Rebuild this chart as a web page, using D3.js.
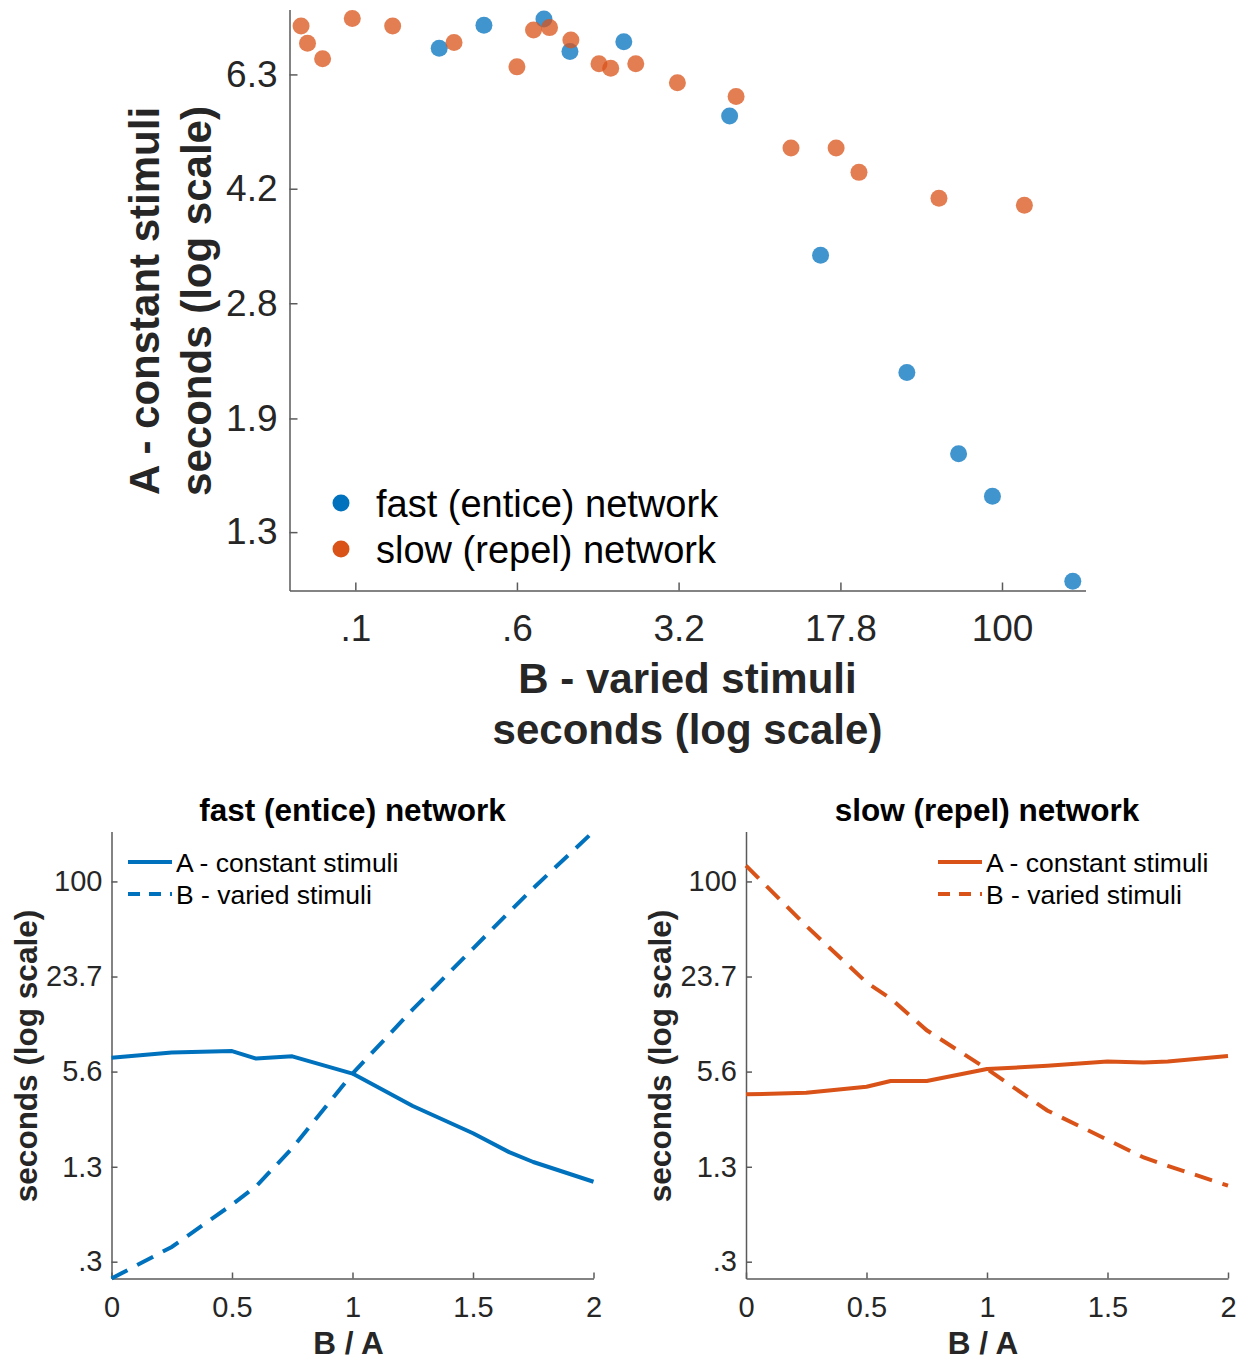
<!DOCTYPE html>
<html>
<head>
<meta charset="utf-8">
<script src="https://cdn.jsdelivr.net/npm/d3@7"></script>
<style>
  body { margin: 0; background: #fff; }
  svg { display: block; }
</style>
</head>
<body>
<script>
// B/A ratio on the bottom panels
var ratio = [0, 0.25, 0.5, 0.6, 0.75, 1, 1.25, 1.5, 1.65, 1.75, 2];

// fast (entice) network, seconds
var fastA = [6.92, 7.50, 7.67, 6.84, 7.08, 5.45, 3.34, 2.21, 1.66, 1.43, 1.06];
var fastB = [0.245, 0.395, 0.750, 0.99, 1.76, 5.45, 14.4, 36.2, 62.9, 90.3, 213];

// slow (repel) network, seconds
var slowA = [3.98, 4.08, 4.47, 4.87, 4.87, 5.84, 6.13, 6.55, 6.45, 6.55, 7.12];
var slowB = [127, 51, 21.7, 17.0, 10.5, 5.84, 3.12, 2.0, 1.53, 1.35, 1.0];

// extra slow-network runs only shown in the scatter
var slowExtraB = [0.056, 0.060, 0.0705, 0.0968, 0.149, 0.287, 0.562, 0.671, 0.796];
var slowExtraA = [7.48, 7.04, 6.67, 7.68, 7.48, 7.06, 6.48, 7.38, 7.44];

// axis ticks
var topXTicks = [0.1, 0.562, 3.16, 17.8, 100];
var topXLabels = [".1", ".6", "3.2", "17.8", "100"];
var topYTicks = [1.26, 1.88, 2.82, 4.22, 6.31];
var topYLabels = ["1.3", "1.9", "2.8", "4.2", "6.3"];
var topXDomain = [0.0495, 244];
var topYDomain = [1.026, 7.93];

var botXTicks = [0, 0.5, 1, 1.5, 2];
var botXLabels = ["0", "0.5", "1", "1.5", "2"];
var botYTicks = [0.316, 1.33, 5.62, 23.7, 100];
var botYLabels = [".3", "1.3", "5.6", "23.7", "100"];

var seriesNames = ["fast (entice) network", "slow (repel) network"];
var lineNames = ["A - constant stimuli", "B - varied stimuli"];

var BLUE = "#0072BD", ORANGE = "#D95319";
var FONT = "'Liberation Sans', Arial, Helvetica, sans-serif";
var AXIS = "#5a5a5a", TXT = "#262626";

var svg = d3.select("body").append("svg")
  .attr("width", 1249).attr("height", 1360)
  .style("font-family", FONT);

function styleAxis(g, size)
{
  g.attr("font-family", FONT).attr("font-size", size);
  g.select(".domain").attr("stroke", AXIS).attr("stroke-width", 1.5);
  g.selectAll(".tick line").attr("stroke", AXIS).attr("stroke-width", 1.5);
  g.selectAll(".tick text").attr("fill", TXT);
}

function labelOf(ticks, labels)
{
  return function(d) { return labels[ticks.indexOf(d)]; };
}

// ---------- top scatter ----------
var tx = d3.scaleLog().domain(topXDomain).range([289.5, 1085.5]);
var ty = d3.scaleLog().domain(topYDomain).range([590.5, 9.5]);

svg.append("g").attr("transform", "translate(0,590.5)")
  .call(d3.axisBottom(tx).tickValues(topXTicks).tickFormat(labelOf(topXTicks, topXLabels))
    .tickSizeInner(-8).tickSizeOuter(0).tickPadding(24))
  .call(styleAxis, 37);

svg.append("g").attr("transform", "translate(289.5,0)")
  .call(d3.axisLeft(ty).tickValues(topYTicks).tickFormat(labelOf(topYTicks, topYLabels))
    .tickSizeInner(-8).tickSizeOuter(0).tickPadding(12))
  .call(styleAxis, 37);

var fastPts = fastB.map(function(b, i) { return { b: b, a: fastA[i] }; });
var slowPts = slowExtraB.map(function(b, i) { return { b: b, a: slowExtraA[i] }; })
  .concat(slowB.map(function(b, i) { return { b: b, a: slowA[i] }; }));

svg.append("g").selectAll("circle").data(fastPts).join("circle")
  .attr("cx", function(d) { return tx(d.b); })
  .attr("cy", function(d) { return ty(d.a); })
  .attr("r", 8.5).attr("fill", BLUE).attr("fill-opacity", 0.75);

svg.append("g").selectAll("circle").data(slowPts).join("circle")
  .attr("cx", function(d) { return tx(d.b); })
  .attr("cy", function(d) { return ty(d.a); })
  .attr("r", 8.5).attr("fill", ORANGE).attr("fill-opacity", 0.75);

// legend
var leg = svg.append("g").attr("transform", "translate(341,503)");
[BLUE, ORANGE].forEach(function(c, i) {
  leg.append("circle").attr("cx", 0).attr("cy", i * 46).attr("r", 8.5).attr("fill", c);
  leg.append("text").attr("x", 35).attr("y", i * 46).attr("dy", "0.36em")
    .attr("font-size", 38).attr("fill", "#000").text(seriesNames[i]);
});

// axis titles
svg.append("text").attr("x", 687.5).attr("y", 693).attr("text-anchor", "middle")
  .attr("font-size", 42).attr("font-weight", "bold").attr("fill", TXT).text("B - varied stimuli");
svg.append("text").attr("x", 687.5).attr("y", 744).attr("text-anchor", "middle")
  .attr("font-size", 42).attr("font-weight", "bold").attr("fill", TXT).text("seconds (log scale)");

svg.append("text").attr("transform", "translate(159,301) rotate(-90)").attr("text-anchor", "middle")
  .attr("font-size", 42).attr("font-weight", "bold").attr("fill", TXT).text("A - constant stimuli");
svg.append("text").attr("transform", "translate(211,301) rotate(-90)").attr("text-anchor", "middle")
  .attr("font-size", 42).attr("font-weight", "bold").attr("fill", TXT).text("seconds (log scale)");

// ---------- bottom panels ----------
var botYDomain = d3.extent(fastB.concat(slowB, fastA, slowA));

function drawPanel(left, right, title, A, B, color, legendX)
{
  var x = d3.scaleLinear().domain([0, 2]).range([left, right]);
  var y = d3.scaleLog().domain(botYDomain).range([1278.5, 831.5]);

  svg.append("g").attr("transform", "translate(0,1278.5)")
    .call(d3.axisBottom(x).tickValues(botXTicks).tickFormat(labelOf(botXTicks, botXLabels))
      .tickSizeInner(-6).tickSizeOuter(0).tickPadding(18))
    .call(styleAxis, 29);

  svg.append("g").attr("transform", "translate(" + left + ",0)")
    .call(d3.axisLeft(y).tickValues(botYTicks).tickFormat(labelOf(botYTicks, botYLabels))
      .tickSizeInner(-6).tickSizeOuter(0).tickPadding(9))
    .call(styleAxis, 29);

  var line = d3.line()
    .x(function(d, i) { return x(ratio[i]); })
    .y(function(d) { return y(d); });

  svg.append("path").attr("d", line(A)).attr("fill", "none")
    .attr("stroke", color).attr("stroke-width", 4).attr("stroke-linejoin", "round");
  svg.append("path").attr("d", line(B)).attr("fill", "none")
    .attr("stroke", color).attr("stroke-width", 4).attr("stroke-dasharray", "18,11");

  var cx = (left + right) / 2;
  svg.append("text").attr("x", cx).attr("y", 810).attr("dy", "0.36em").attr("text-anchor", "middle")
    .attr("font-size", 31.5).attr("font-weight", "bold").attr("fill", "#000").text(title);
  svg.append("text").attr("x", cx - 4).attr("y", 1354).attr("text-anchor", "middle")
    .attr("font-size", 31.5).attr("font-weight", "bold").attr("fill", TXT).text("B / A");
  svg.append("text").attr("transform", "translate(" + (left - 75) + ",1056) rotate(-90)")
    .attr("text-anchor", "middle").attr("font-size", 31.5).attr("font-weight", "bold")
    .attr("fill", TXT).text("seconds (log scale)");

  // legend
  var lg = svg.append("g").attr("transform", "translate(" + legendX + ",862)");
  lineNames.forEach(function(n, i) {
    lg.append("line").attr("x1", 0).attr("x2", 44).attr("y1", i * 32).attr("y2", i * 32)
      .attr("stroke", color).attr("stroke-width", 4)
      .attr("stroke-dasharray", i == 1 ? "12,9" : null);
    lg.append("text").attr("x", 48).attr("y", i * 32).attr("dy", "0.36em")
      .attr("font-size", 26.5).attr("fill", "#000").text(n);
  });
}

drawPanel(111.5, 593.5, seriesNames[0], fastA, fastB, BLUE, 128);
drawPanel(746, 1228, seriesNames[1], slowA, slowB, ORANGE, 938);
</script>
</body>
</html>
